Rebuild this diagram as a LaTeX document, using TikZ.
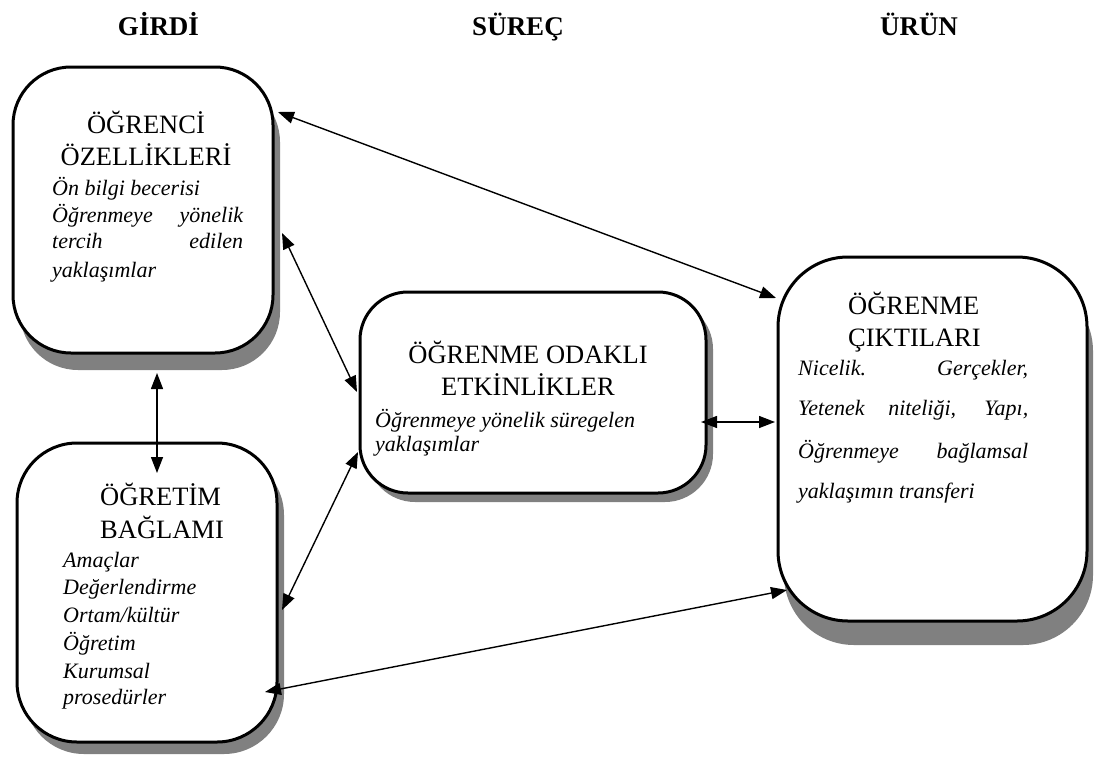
\documentclass[tikz,border=0pt]{standalone}
\usepackage{fontspec}
\setmainfont{Liberation Serif}
\usetikzlibrary{arrows.meta,shadows}
\definecolor{shadowgray}{RGB}{128,128,128}
\begin{document}
\begin{tikzpicture}[x=1pt,y=-1pt,
  box/.style={draw=black, line width=3pt, fill=white, rectangle, inner sep=0pt},
  hdr/.style={font=\fontsize{27}{30}\selectfont\bfseries, anchor=base, inner sep=0pt},
  ttl/.style={font=\fontsize{26.5}{30}\selectfont, anchor=base, inner sep=0pt},
  itl/.style={font=\fontsize{22}{26}\selectfont\itshape, anchor=base west, inner sep=0pt},
  arr/.style={line width=1.4pt, {Triangle[length=16pt,width=12pt]}-{Triangle[length=16pt,width=12pt]}}
]
\useasboundingbox[fill=white] (0,0) rectangle (1094,760);

% headers
\node[hdr] (h1) at (158.5,36) {GİRDİ};
\node[hdr] (h2) at (518,36) {SÜREÇ};
\node[hdr] (h3) at (919,36) {ÜRÜN};

% boxes
\node[box, rounded corners=58pt, minimum width=260pt, minimum height=286pt,
  drop shadow={shadow xshift=7pt, shadow yshift=-17pt, fill=shadowgray, opacity=1}] (b1) at (143,210) {};
\node[box, rounded corners=60pt, minimum width=260pt, minimum height=299pt,
  drop shadow={shadow xshift=7pt, shadow yshift=-12pt, fill=shadowgray, opacity=1}] (b2) at (147,592.5) {};
\node[box, rounded corners=48pt, minimum width=346pt, minimum height=201pt,
  drop shadow={shadow xshift=7pt, shadow yshift=-9pt, fill=shadowgray, opacity=1}] (b3) at (533,392.5) {};
\node[box, rounded corners=70pt, minimum width=309pt, minimum height=364pt,
  drop shadow={shadow xshift=6pt, shadow yshift=-24pt, fill=shadowgray, opacity=1}] (b4) at (932.5,439) {};

% box 1 text
\node[ttl] (t1a) at (146,133) {ÖĞRENCİ};
\node[ttl] (t1b) at (146,165) {ÖZELLİKLERİ};
\node[itl] (i1a) at (52,195) {Ön bilgi becerisi};
\node[itl] (i1b) at (52,222) {\makebox[191pt][s]{Öğrenmeye yönelik}};
\node[itl] (i1c) at (52,248) {\makebox[191pt][s]{tercih edilen}};
\node[itl] (i1d) at (52,277) {yaklaşımlar};

% box 2 text
\node[ttl, anchor=base west] (t2a) at (100,505) {ÖĞRETİM};
\node[ttl, anchor=base west] (t2b) at (100,538) {BAĞLAMI};
\node[itl] (i2a) at (63,567) {Amaçlar};
\node[itl] (i2b) at (63,594) {Değerlendirme};
\node[itl] (i2c) at (63,622) {Ortam/kültür};
\node[itl] (i2d) at (63,650) {Öğretim};
\node[itl] (i2e) at (63,678) {Kurumsal};
\node[itl] (i2f) at (63,704) {prosedürler};

% box 3 text
\node[ttl] (t3a) at (528,363) {ÖĞRENME ODAKLI};
\node[ttl] (t3b) at (528,395) {ETKİNLİKLER};
\node[itl] (i3a) at (375,427) {Öğrenmeye yönelik süregelen};
\node[itl] (i3b) at (375,451) {yaklaşımlar};

% box 4 text
\node[ttl, anchor=base west] (t4a) at (848,314) {ÖĞRENME};
\node[ttl, anchor=base west] (t4b) at (848,346) {ÇIKTILARI};
\node[itl] (i4a) at (798,375) {\makebox[230pt][s]{Nicelik. Gerçekler,}};
\node[itl] (i4b) at (798,415) {\makebox[230pt][s]{Yetenek niteliği, Yapı,}};
\node[itl] (i4c) at (798,458) {\makebox[230pt][s]{Öğrenmeye bağlamsal}};
\node[itl] (i4d) at (798,498) {yaklaşımın transferi};

% connector end points
\coordinate (c1s) at (278,112);
\coordinate (c1e) at (776,298);
\coordinate (c2s) at (282,233);
\coordinate (c2e) at (357,392);
\coordinate (c3s) at (282,610);
\coordinate (c3e) at (358,452);
\coordinate (c4s) at (157,373);
\coordinate (c4e) at (157,473);
\coordinate (c5s) at (701,422);
\coordinate (c5e) at (775,422);
\coordinate (c6s) at (265,692);
\coordinate (c6e) at (787,590);

\draw[arr] (c1s) -- (c1e);
\draw[arr] (c2s) -- (c2e);
\draw[arr] (c3s) -- (c3e);
\draw[arr] (c4s) -- (c4e);
\draw[arr] (c5s) -- (c5e);
\draw[arr] (c6s) -- (c6e);
\end{tikzpicture}
\end{document}
